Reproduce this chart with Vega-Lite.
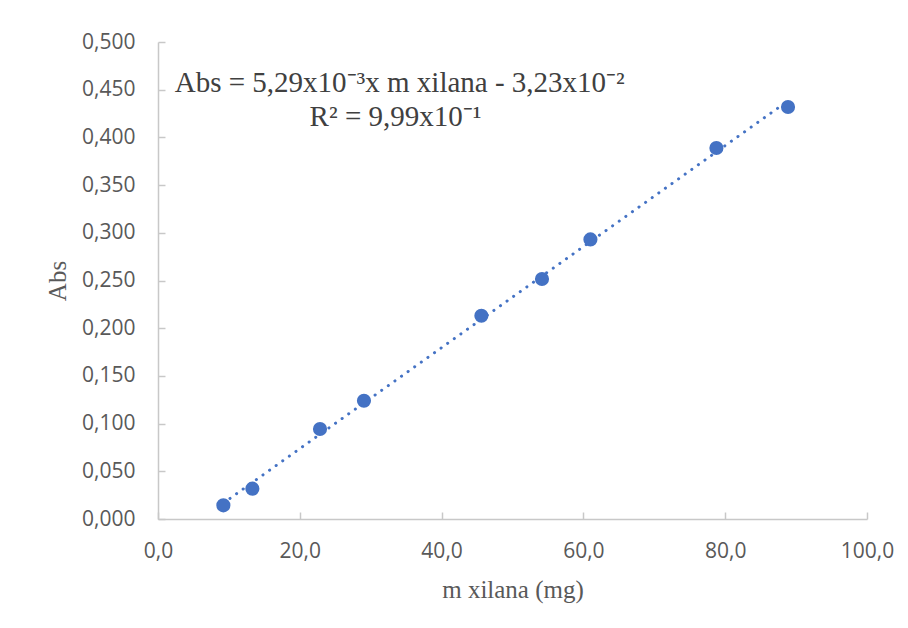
{
  "$schema": "https://vega.github.io/schema/vega-lite/v6.json",
  "autosize": {"type": "none"},
  "width": 709,
  "height": 477,
  "padding": {"left": 158, "top": 42, "right": 41, "bottom": 109},
  "background": "white",
  "config": {"view": {"stroke": null}},
  "datasets": {
    "pts": [
      {"m": 9.22, "abs": 0.0143},
      {"m": 13.31, "abs": 0.0318},
      {"m": 22.85, "abs": 0.0943},
      {"m": 29.05, "abs": 0.124},
      {"m": 45.61, "abs": 0.2131},
      {"m": 54.16, "abs": 0.2516},
      {"m": 60.99, "abs": 0.2931},
      {"m": 78.76, "abs": 0.3889},
      {"m": 88.86, "abs": 0.4319}
    ],
    "notes": [
      {"m": 34.1, "abs": 0.457, "label": "Abs = 5,29x10⁻³x m xilana - 3,23x10⁻²"},
      {"m": 33.5, "abs": 0.4217, "label": "R² = 9,99x10⁻¹"}
    ]
  },
  "layer": [
    {
      "data": {"name": "pts"},
      "transform": [{"regression": "abs", "on": "m"}],
      "mark": {"type": "line", "color": "#4472C4", "strokeWidth": 3, "strokeDash": [0.1, 8], "strokeCap": "round"},
      "encoding": {
        "x": {"field": "m", "type": "quantitative"},
        "y": {"field": "abs", "type": "quantitative"}
      }
    },
    {
      "data": {"name": "pts"},
      "mark": {"type": "circle", "color": "#4472C4", "opacity": 1, "size": 200},
      "encoding": {
        "x": {
          "field": "m", "type": "quantitative",
          "scale": {"domain": [0, 100], "nice": false, "zero": true},
          "axis": {
            "title": "m xilana (mg)",
            "values": [0, 20, 40, 60, 80, 100],
            "labelExpr": "replace(format(datum.value, '.1f'), '.', ',')",
            "labelFlush": false,
            "grid": false,
            "domainColor": "#C8C8C8", "domainWidth": 1.5,
            "tickColor": "#C8C8C8", "tickWidth": 1.5, "tickSize": -7,
            "labelFont": "Open Sans", "labelFontSize": 21, "labelColor": "#595959",
            "labelPadding": 28,
            "titleFont": "Liberation Serif", "titleFontSize": 25, "titleFontWeight": "normal", "titleColor": "#595959",
            "titlePadding": 16
          }
        },
        "y": {
          "field": "abs", "type": "quantitative",
          "scale": {"domain": [0, 0.5], "nice": false},
          "axis": {
            "title": "Abs",
            "values": [0, 0.05, 0.1, 0.15, 0.2, 0.25, 0.3, 0.35, 0.4, 0.45, 0.5],
            "labelExpr": "replace(format(datum.value, '.3f'), '.', ',')",
            "labelFlush": false,
            "grid": false,
            "domainColor": "#C8C8C8", "domainWidth": 1.5,
            "tickColor": "#C8C8C8", "tickWidth": 1.5, "tickSize": -7,
            "labelFont": "Open Sans", "labelFontSize": 21, "labelColor": "#595959",
            "labelPadding": 30,
            "titleFont": "Liberation Serif", "titleFontSize": 25, "titleFontWeight": "normal", "titleColor": "#595959",
            "titlePadding": 11
          }
        }
      }
    },
    {
      "data": {"name": "notes"},
      "mark": {"type": "text", "font": "Liberation Serif", "fontSize": 29, "color": "#404040", "align": "center", "baseline": "middle"},
      "encoding": {
        "x": {"field": "m", "type": "quantitative"},
        "y": {"field": "abs", "type": "quantitative"},
        "text": {"field": "label"}
      }
    }
  ]
}
